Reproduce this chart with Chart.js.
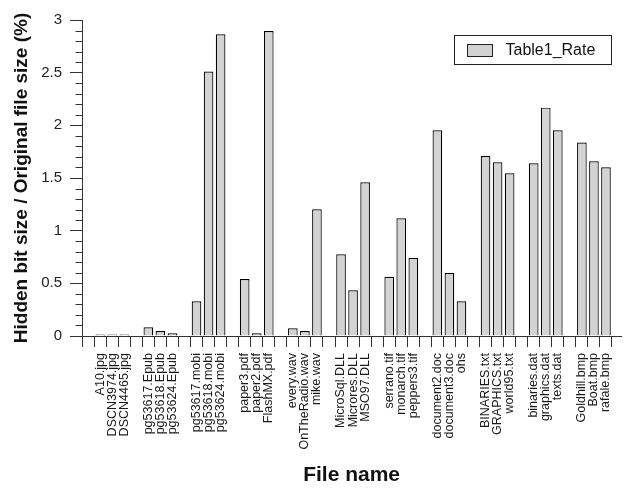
<!DOCTYPE html>
<html>
<head>
<meta charset="utf-8">
<script src="https://cdn.jsdelivr.net/npm/chart.js@4/dist/chart.umd.min.js"></script>
<style>
  html, body { margin: 0; padding: 0; background: #fff; }
  #wrap { width: 627px; height: 488px; position: relative; }
</style>
</head>
<body>
<div id="wrap"><canvas id="c" width="627" height="488"></canvas></div>
<script>
const seriesName = 'Table1_Rate';
const fileNames = [
  'A10.jpg', 'DSCN3974.jpg', 'DSCN4465.jpg',
  'pg53617.Epub', 'pg53618.Epub', 'pg53624.Epub',
  'pg53617.mobi', 'pg53618.mobi', 'pg53624.mobi',
  'paper3.pdf', 'paper2.pdf', 'FlashMX.pdf',
  'every.wav', 'OnTheRadio.wav', 'mike.wav',
  'MicroSql.DLL', 'Microres.DLL', 'MSO97.DLL',
  'serrano.tif', 'monarch.tif', 'peppers3.tif',
  'document2.doc', 'document3.doc', 'ohs',
  'BINARIES.txt', 'GRAPHICS.txt', 'world95.txt',
  'binaries.dat', 'graphics.dat', 'texts.dat',
  'Goldhill.bmp', 'Boat.bmp', 'rafale.bmp'
];
const rates = [
  0.015, 0.015, 0.015,
  0.083, 0.047, 0.026,
  0.33, 2.51, 2.865,
  0.54, 0.026, 2.896,
  0.073, 0.047, 1.203,
  0.776, 0.434, 1.46,
  0.563, 1.118, 0.74,
  1.953, 0.598, 0.33,
  1.709, 1.65, 1.545,
  1.64, 2.168, 1.953,
  1.836, 1.659, 1.602
];
const groupSize = 3;
const yTickValues = [0, 0.5, 1, 1.5, 2, 2.5, 3];
const yMinorStep = 0.1;
const xTitle = 'File name';
const yTitle = 'Hidden bit size / Original file size (%)';

// slot layout: an empty slot before each group of three files
const slotLabels = [];
const points = [];
fileNames.forEach((name, i) => {
  if (i % groupSize === 0) slotLabels.push('');
  points.push({ x: slotLabels.length, y: rates[i] });
  slotLabels.push(name);
});

const FONT = '"Liberation Sans", Arial, Helvetica, sans-serif';
const BAR_FILL = '#d3d3d3';
const BAR_EDGE = '#000000';
const AXIS = '#333333';

const minorTicks = {
  id: 'minorTicks',
  afterDraw(chart) {
    const y = chart.scales.y;
    const ctx = chart.ctx;
    const x0 = chart.chartArea.left;
    ctx.save();
    ctx.strokeStyle = AXIS;
    ctx.lineWidth = 1;
    const n = Math.round((y.max - y.min) / yMinorStep);
    for (let i = 0; i <= n; i++) {
      const v = y.min + i * yMinorStep;
      if (yTickValues.some(t => Math.abs(t - v) < 1e-6)) continue;
      const py = Math.round(y.getPixelForValue(v)) + 0.5;
      ctx.beginPath();
      ctx.moveTo(x0 - 6.5, py);
      ctx.lineTo(x0, py);
      ctx.stroke();
    }
    ctx.restore();
  }
};

const boxLegend = {
  id: 'boxLegend',
  afterDraw(chart) {
    const ctx = chart.ctx;
    const ca = chart.chartArea;
    const w = 157, h = 29;
    const left = Math.round(ca.right - 10 - w) + 0.5;
    const top = Math.round(ca.top + 15) + 0.5;
    ctx.save();
    ctx.fillStyle = '#ffffff';
    ctx.fillRect(left, top, w, h);
    ctx.strokeStyle = '#222';
    ctx.lineWidth = 1;
    ctx.strokeRect(left, top, w, h);
    ctx.fillStyle = BAR_FILL;
    ctx.fillRect(left + 13, top + 9, 25, 12);
    ctx.strokeStyle = '#222';
    ctx.strokeRect(left + 13, top + 9, 25, 12);
    ctx.fillStyle = '#111';
    ctx.font = '16px ' + FONT;
    ctx.textBaseline = 'middle';
    ctx.textAlign = 'left';
    ctx.fillText(seriesName, left + 51, top + h / 2 + 0.5);
    ctx.restore();
  }
};

new Chart(document.getElementById('c'), {
  type: 'bar',
  data: {
    datasets: [{
      label: seriesName,
      data: points,
      backgroundColor: BAR_FILL,
      borderColor: BAR_EDGE,
      borderWidth: 1.2,
      borderSkipped: 'start',
      barPercentage: 0.8,
      categoryPercentage: 1.0
    }]
  },
  options: {
    responsive: false,
    animation: false,
    devicePixelRatio: 1,
    layout: { padding: { top: 20, right: 1, bottom: 0, left: 0 } },
    plugins: {
      legend: { display: false },
      tooltip: { enabled: false }
    },
    scales: {
      x: {
        type: 'linear',
        min: 0,
        max: slotLabels.length - 0.25,
        afterBuildTicks(scale) {
          scale.ticks = slotLabels.map((_, i) => ({ value: i }));
        },
        afterFit(scale) { scale.height = 152; },
        ticks: {
          autoSkip: false,
          minRotation: 90,
          maxRotation: 90,
          padding: 6,
          color: '#1a1a1a',
          font: { family: FONT, size: 12.5 },
          callback: (v) => slotLabels[v] ?? ''
        },
        grid: {
          drawOnChartArea: false,
          drawTicks: true,
          tickLength: 11,
          tickColor: AXIS,
          tickWidth: 1
        },
        border: { display: true, color: AXIS, width: 1 },
        title: {
          display: true,
          text: xTitle,
          color: '#111',
          font: { family: FONT, size: 21, weight: 'bold' },
          padding: { top: 0, bottom: 0 }
        }
      },
      y: {
        min: 0,
        max: 3,
        afterBuildTicks(scale) {
          scale.ticks = yTickValues.map(v => ({ value: v }));
        },
        afterFit(scale) { scale.width = 82; },
        ticks: {
          padding: 8,
          color: '#222',
          font: { family: FONT, size: 15 },
          callback: (v) => String(v)
        },
        grid: {
          drawOnChartArea: false,
          drawTicks: true,
          tickLength: 12,
          tickColor: AXIS,
          tickWidth: 1
        },
        border: { display: true, color: AXIS, width: 1 },
        title: {
          display: true,
          text: yTitle,
          color: '#111',
          font: { family: FONT, size: 19, weight: 'bold' },
          padding: { top: 10, bottom: 0 }
        }
      }
    }
  },
  plugins: [minorTicks, boxLegend]
});
</script>
</body>
</html>
